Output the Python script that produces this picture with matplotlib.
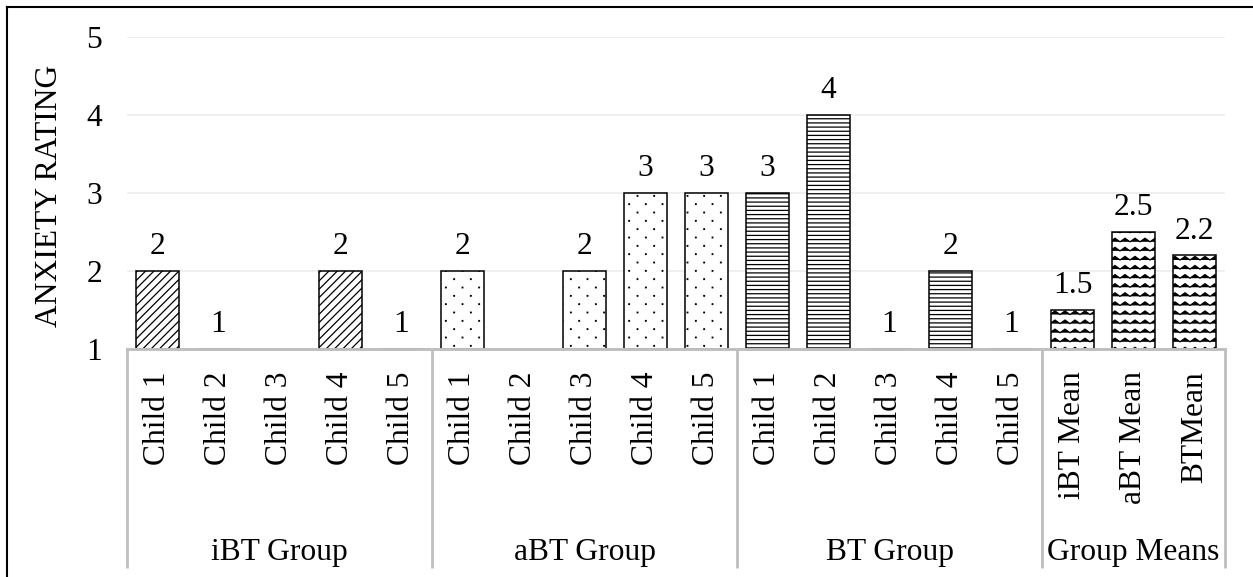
import warnings
import numpy as np
import matplotlib
matplotlib.use('Agg')
import matplotlib.pyplot as plt
import matplotlib.hatch as mhatch
import matplotlib.transforms as mtransforms
from matplotlib.path import Path
from matplotlib.lines import Line2D

group_names = ['iBT Group', 'aBT Group', 'BT Group', 'Group Means']
child_labels = ['Child 1', 'Child 2', 'Child 3', 'Child 4', 'Child 5']
mean_labels = ['iBT Mean', 'aBT Mean', 'BTMean']

ibt_values = [2, 1, None, 2, 1]
abt_values = [2, None, 2, 3, 3]
bt_values = [3, 4, 1, 2, 1]
mean_values = [1.5, 2.5, 2.2]

y_ticks = [1, 2, 3, 4, 5]


# extra hatch patterns: 'p' = sparse dots, 'w' = zigzag waves
class CustomHatch(mhatch.HatchPatternBase):
  char = None

  def __init__(self, hatch, density):
    self.path = self.make_path() if hatch.count(self.char) else None
    self.num_vertices = len(self.path.vertices) if self.path is not None else 0

  def set_vertices_and_codes(self, vertices, codes):
    vertices[:] = self.path.vertices
    codes[:] = self.path.codes


class DotHatch(CustomHatch):
  char = 'p'

  def make_path(self):
    verts, codes = [], []
    rows, cols, s = 12, 6, 0.003
    for r in range(rows):
      y = (r + 0.5) / rows
      shift = 0.25 if r % 2 == 0 else 0.75
      for c in range(cols):
        x = (c + shift) / cols
        verts += [(x - s, y - s), (x + s, y - s), (x + s, y + s), (x - s, y + s), (x - s, y - s)]
        codes += [Path.MOVETO, Path.LINETO, Path.LINETO, Path.LINETO, Path.CLOSEPOLY]
    return Path(np.array(verts), np.array(codes, dtype=Path.code_type))


class WaveHatch(CustomHatch):
  char = 'w'

  def make_path(self):
    verts, codes = [], []
    rows, periods, amp = 11, 10, 0.036
    n = 2 * periods + 1
    for r in range(rows):
      y = (r + 0.4) / rows
      xs = np.linspace(0, 1, n)
      ys = y + amp * (np.arange(n) % 2)
      verts += list(zip(xs, ys))
      codes += [Path.MOVETO] + [Path.LINETO] * (n - 1)
    return Path(np.array(verts), np.array(codes, dtype=Path.code_type))


mhatch._hatch_types += [DotHatch, WaveHatch]
mhatch._validate_hatch_pattern = lambda hatch: None
warnings.filterwarnings('ignore')

plt.rcParams['font.family'] = ['Liberation Serif', 'DejaVu Serif']
plt.rcParams['font.size'] = 22.7
plt.rcParams['hatch.linewidth'] = 0.9

W, H = 1253, 577
fig = plt.figure(figsize=(W / 100, H / 100), dpi=100)
ax = fig.add_axes([127 / W, (H - 349) / H, 1098 / W, 312 / H])

series = [ibt_values, abt_values, bt_values, mean_values]
labels_per_group = [child_labels, child_labels, child_labels, mean_labels]
hatches = ['////', 'p', '----', 'w']

base = y_ticks[0]
start = 0
bounds = [-0.5]
all_labels = []
for values, labels, hatch in zip(series, labels_per_group, hatches):
  for i, v in enumerate(values):
    x = start + i
    if v is None:
      continue
    ax.bar(x, v - base, bottom=base, width=0.69, color='white', edgecolor='black',
           linewidth=1.1, hatch=hatch, zorder=2)
    ax.annotate(f'{v:g}', (x, v), xytext=(0, 12), textcoords='offset points',
                ha='center', va='baseline')
  all_labels += labels
  start += len(values)
  bounds.append(start - 0.5)

ax.set_xlim(-0.5, start - 0.5)
ax.set_ylim(y_ticks[0], y_ticks[-1])
ax.set_yticks(y_ticks)
ax.set_xticks(range(start))
ax.set_xticklabels(all_labels, rotation=90)
ax.tick_params(axis='y', length=0, pad=18)
ax.tick_params(axis='x', length=0, pad=16)

ax.grid(axis='y', color='#EEEEEE', linewidth=1.3)
ax.set_axisbelow(True)
for side in ['left', 'right', 'top']:
  ax.spines[side].set_visible(False)
ax.spines['bottom'].set_color('#BFBFBF')
ax.spines['bottom'].set_linewidth(2.1)
ax.spines['bottom'].set_zorder(3)

# multi-level category axis: separators and group names
trans = mtransforms.blended_transform_factory(ax.transData, ax.transAxes)
for b in bounds:
  ax.plot([b, b], [0, -0.703], transform=trans, color='#BFBFBF', linewidth=2.0,
          clip_on=False, solid_capstyle='butt')
for name, lo, hi in zip(group_names, bounds[:-1], bounds[1:]):
  ax.text((lo + hi) / 2, -0.676, name, transform=trans, ha='center', va='baseline')

ax.text(-0.0705, 0.49, 'ANXIETY RATING', transform=ax.transAxes, rotation=90,
        ha='center', va='center')

# outer chart border (left and top edges visible)
fig.add_artist(Line2D([6.5 / W, 6.5 / W], [0, 1 - 6.5 / H], color='black', linewidth=1.5))
fig.add_artist(Line2D([6.5 / W, 1], [1 - 6.5 / H, 1 - 6.5 / H], color='black', linewidth=1.5))

fig.savefig('out.png', dpi=100)
